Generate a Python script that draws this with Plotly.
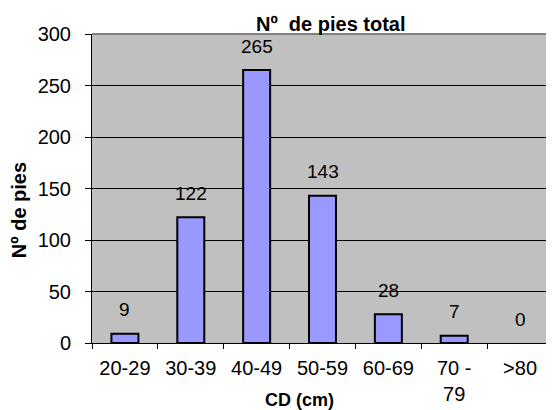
import plotly.graph_objects as go

categories = ["20-29", "30-39", "40-49", "50-59", "60-69", "70 -<br>79", ">80"]
values = [9, 122, 265, 143, 28, 7, 0]
y_ticks = [0, 50, 100, 150, 200, 250, 300]

FONT = "Liberation Sans, Arial, sans-serif"

fig = go.Figure()
fig.add_trace(go.Bar(
    x=categories, y=values,
    marker=dict(color="#9999FF",
                line=dict(color="#000000", width=[2 if v > 0 else 0 for v in values])),
    width=0.41,
    hoverinfo="skip",
))

for c, v in zip(categories, values):
    fig.add_annotation(x=c, y=v, text=str(v), showarrow=False,
                       yshift=24, font=dict(family=FONT, size=19, color="#000"))

# chart title and axis titles
fig.add_annotation(text="<b>Nº  de pies total</b>", xref="paper", yref="paper",
                   x=0.518, y=1.0, xanchor="center", yanchor="bottom", yshift=-3,
                   showarrow=False, font=dict(family=FONT, size=20, color="#000"))
fig.add_annotation(text="<b>CD (cm)</b>", xref="paper", yref="paper",
                   x=0.45, y=0, xanchor="center", yanchor="middle", yshift=-57,
                   showarrow=False, font=dict(family=FONT, size=18, color="#000"))
fig.add_annotation(text="<b>Nº de pies</b>", xref="paper", yref="paper",
                   x=0, y=0.43, xanchor="center", yanchor="middle", xshift=-73,
                   textangle=-90, showarrow=False,
                   font=dict(family=FONT, size=20, color="#000"))

fig.update_layout(
    width=546, height=402,
    margin=dict(l=84, r=1, t=26, b=67),
    paper_bgcolor="white",
    plot_bgcolor="#C0C0C0",
    showlegend=False,
    font=dict(family=FONT, size=19, color="#000"),
    bargap=0.59,
)
fig.update_xaxes(
    type="category", showline=True, linecolor="#000", linewidth=1,
    ticks="outside", ticklen=5, tickcolor="#000", tickson="boundaries",
    showgrid=False, automargin=False, ticklabelstandoff=7,
    tickfont=dict(family=FONT, size=20, color="#000"),
)
fig.update_yaxes(
    range=[0, 300], tickvals=y_ticks, showline=True, linecolor="#000", linewidth=1,
    ticks="outside", ticklen=6, tickcolor="#000",
    showgrid=True, gridcolor="#000", gridwidth=1, zeroline=False,
    automargin=False, ticklabelstandoff=10,
    tickfont=dict(family=FONT, size=20, color="#000"),
)
fig.add_shape(type="line", xref="paper", yref="paper", x0=0, x1=1, y0=1, y1=1,
              line=dict(color="#808080", width=2), layer="above")
fig.add_shape(type="line", xref="paper", yref="paper", x0=1, x1=1, y0=0, y1=1,
              line=dict(color="#808080", width=2), layer="above")

fig.write_html("out.html")
